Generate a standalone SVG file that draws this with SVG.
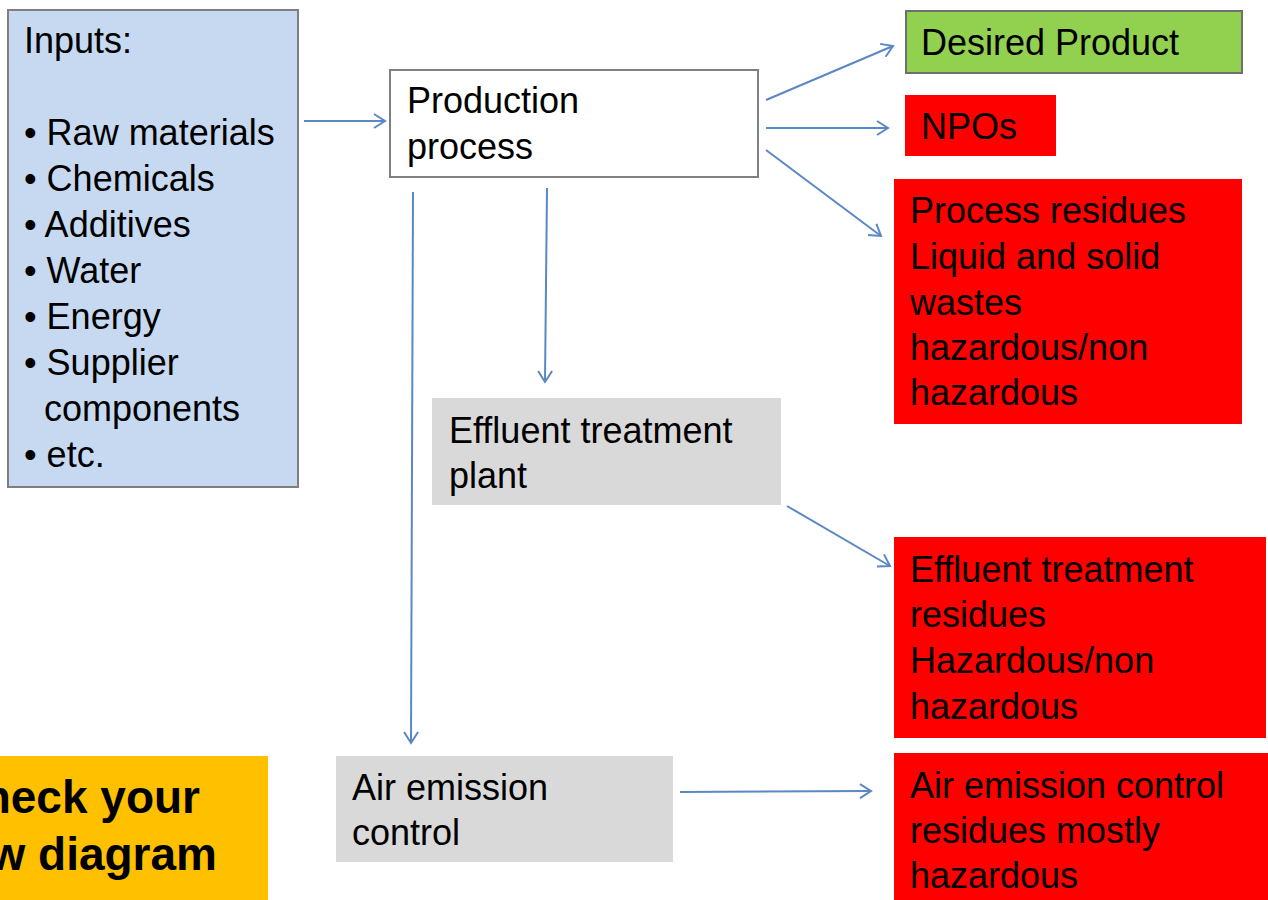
<svg xmlns="http://www.w3.org/2000/svg" width="1268" height="900" viewBox="0 0 1268 900">
<defs>
<marker id="arr" markerUnits="userSpaceOnUse" markerWidth="16" markerHeight="16" viewBox="0 0 16 16" refX="13" refY="8" orient="auto">
<path d="M2,1 L13,8 L2,15" fill="none" stroke="#5A88C4" stroke-width="2"/>
</marker>
<style>
text{font-family:"Liberation Sans",Arial,sans-serif;font-size:36px;fill:#000}
.big{font-weight:bold;font-size:46px}
.c{stroke:#5A88C4;stroke-width:2;fill:none;marker-end:url(#arr)}
.red{fill:#FF0000}
.gray{fill:#D9D9D9}
</style>
</defs>
<rect width="1268" height="900" fill="#fff"/>
<g id="inputs">
<rect x="8" y="10" width="290" height="477" fill="#C6D9F1" stroke="#7F7F7F" stroke-width="2"/>
<text x="24" y="53">Inputs:</text>
<text x="24" y="145">• Raw materials</text>
<text x="24" y="191">• Chemicals</text>
<text x="24" y="237">• Additives</text>
<text x="24" y="283">• Water</text>
<text x="24" y="329">• Energy</text>
<text x="24" y="375">• Supplier</text>
<text x="44" y="421">components</text>
<text x="24" y="467">• etc.</text>
</g>
<g id="production">
<rect x="390" y="70" width="368" height="107" fill="#fff" stroke="#7F7F7F" stroke-width="2"/>
<text x="407" y="113">Production</text>
<text x="407" y="159">process</text>
</g>
<g id="desired">
<rect x="906" y="11" width="336" height="62" fill="#92D050" stroke="#6F6F6F" stroke-width="2"/>
<text x="921" y="55">Desired Product</text>
</g>
<g id="npos">
<rect class="red" x="905" y="95" width="151" height="61"/>
<text x="921" y="139">NPOs</text>
</g>
<g id="process-residues">
<rect class="red" x="894" y="179" width="348" height="245"/>
<text x="910" y="223">Process residues</text>
<text x="910" y="269">Liquid and solid</text>
<text x="910" y="315">wastes</text>
<text x="910" y="360">hazardous/non</text>
<text x="910" y="405">hazardous</text>
</g>
<g id="etp">
<rect class="gray" x="432" y="398" width="349" height="107"/>
<text x="449" y="443">Effluent treatment</text>
<text x="449" y="488">plant</text>
</g>
<g id="etp-residues">
<rect class="red" x="894" y="537" width="372" height="201"/>
<text x="910" y="582">Effluent treatment</text>
<text x="910" y="627">residues</text>
<text x="910" y="673">Hazardous/non</text>
<text x="910" y="719">hazardous</text>
</g>
<g id="air">
<rect class="gray" x="336" y="756" width="337" height="106"/>
<text x="352" y="800">Air emission</text>
<text x="352" y="845">control</text>
</g>
<g id="air-residues">
<rect class="red" x="894" y="753" width="374" height="147"/>
<text x="910" y="798">Air emission control</text>
<text x="910" y="843">residues mostly</text>
<text x="910" y="888">hazardous</text>
</g>
<g id="note">
<rect x="0" y="756" width="268" height="144" fill="#FFC000"/>
<text class="big" x="200" y="813" text-anchor="end">Check your</text>
<text class="big" x="217" y="870" text-anchor="end">flow diagram</text>
</g>
<g id="connectors">
<line class="c" x1="304" y1="121" x2="385" y2="121"/>
<line class="c" x1="766" y1="100" x2="893" y2="46"/>
<line class="c" x1="766" y1="128" x2="888" y2="128"/>
<line class="c" x1="766" y1="150" x2="881" y2="236"/>
<line class="c" x1="547" y1="188" x2="545" y2="382"/>
<line class="c" x1="413" y1="192" x2="411" y2="743"/>
<line class="c" x1="787" y1="506" x2="890" y2="566"/>
<line class="c" x1="680" y1="792" x2="871" y2="791"/>
</g>
</svg>
